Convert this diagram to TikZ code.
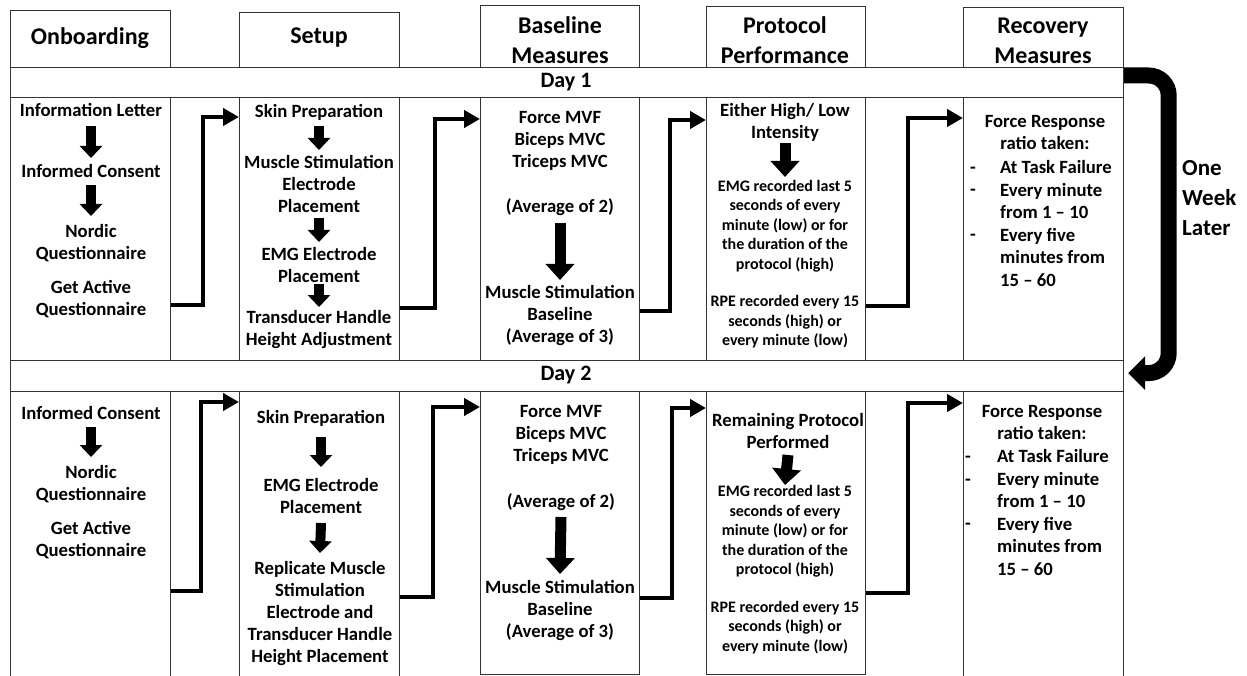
\documentclass[tikz,border=0pt]{standalone}
\usepackage{fontspec}
\setmainfont{Carlito}
\usetikzlibrary{arrows.meta}
\tikzset{
 cell/.style={draw=black!80, line width=1.2pt, inner sep=0pt, anchor=north west},
 txt/.style={align=center, inner sep=0pt, font=\fontsize{18.7}{22}\selectfont\bfseries},
 small/.style={align=center, inner sep=0pt, font=\fontsize{16}{19.5}\selectfont\bfseries},
 head/.style={align=center, inner sep=0pt, font=\fontsize{24}{30}\selectfont\bfseries},
 lst/.style={align=left, anchor=west, inner sep=0pt, font=\fontsize{18.7}{22.5}\selectfont\bfseries},
 bul/.style={inner sep=0pt, yshift=-3.5pt, font=\fontsize{18.7}{22}\selectfont\bfseries},
 elbow/.style={line width=4.5pt, -{Triangle[length=16pt 0 0,width=17pt 0 0]}},
 blk/.style={line width=10pt, -{Triangle[length=12pt 0 0,width=22pt 0 0]}},
 blkbig/.style={line width=11pt, -{Triangle[length=16pt 0 0,width=28pt 0 0]}},
}
\newcommand\mkcell[5]{\node[cell,minimum width=#4pt,minimum height=#5pt] (#1) at (#2,-#3) {};}
\begin{document}
\begin{tikzpicture}[x=1pt,y=1pt]
\useasboundingbox (0,0) rectangle (1247,-676);
% header boxes
\mkcell{hon}{10}{10}{160}{57}
\mkcell{hse}{239}{12}{160}{55}
\mkcell{hba}{480}{5}{159}{62}
\mkcell{hpr}{706}{6}{159}{61}
\mkcell{hre}{963}{7}{160}{60}
\node[head] (thon) at (90,-38) {Onboarding};
\node[head] (thse) at (319,-38) {Setup};
\node[head] (thba) at (560,-40) {Baseline\\Measures};
\node[head] (thpr) at (785,-40) {Protocol\\Performance};
\node[head] (thre) at (1043,-41) {Recovery\\Measures};
% day bands
\mkcell{d1}{10}{67}{1113}{30}
\node[font=\fontsize{22}{26}\selectfont\bfseries, inner sep=0pt] (td1) at (566,-82) {Day 1};
\mkcell{d2}{10}{360}{1113}{31}
\node[font=\fontsize{22}{26}\selectfont\bfseries, inner sep=0pt] (td2) at (566,-375) {Day 2};
% row 1 cells
\mkcell{on1}{10}{97}{160}{263}
\mkcell{se1}{239}{97}{160}{263}
\mkcell{ba1}{480}{97}{159}{263}
\mkcell{pr1}{706}{97}{159}{263}
\mkcell{re1}{963}{97}{160}{263}
% row 2 cells
\mkcell{on2}{10}{391}{160}{295}
\mkcell{se2}{239}{391}{160}{295}
\mkcell{ba2}{480}{391}{159}{283}
\mkcell{pr2}{706}{391}{159}{283}
\mkcell{re2}{963}{391}{160}{295}

% ---------- Day 1 texts ----------
\node[txt] (a1) at (91,-110) {Information Letter};
\node[txt] (a2) at (91,-171) {Informed Consent};
\node[txt] (a3) at (91,-243) {Nordic\\Questionnaire};
\node[txt] (a4) at (91,-299) {Get Active\\Questionnaire};
\draw[blk] (a1.south |- 0,-126) -- (a2.north |- 0,-158);
\draw[blk] (a2.south |- 0,-185) -- (a3.north |- 0,-216);

\node[txt] (b1) at (319,-112) {Skin Preparation};
\node[txt] (b2) at (319,-184) {Muscle Stimulation\\Electrode\\Placement};
\node[txt] (b3) at (319,-265) {EMG Electrode\\Placement};
\node[txt] (b4) at (319,-330) {Transducer Handle\\Height Adjustment};
\draw[blk] (b1.south |- 0,-126) -- (b2.north |- 0,-150);
\draw[blk] (b2.south |- 0,-218) -- (b3.north |- 0,-242);
\draw[blk] (b3.south |- 0,-284) -- (b4.north |- 0,-307);

\node[txt] (c1) at (560,-140.5) {Force MVF\\Biceps MVC\\Triceps MVC};
\node[txt] (c2) at (560,-207) {(Average of 2)};
\node[txt] (c3) at (560,-315.5) {Muscle Stimulation\\Baseline\\(Average of 3)};
\draw[blkbig] (c2.south |- 0,-223) -- (c3.north |- 0,-280);

\node[txt] (p1) at (785,-122) {Either High/ Low\\Intensity};
\node[small] (p2) at (785,-226) {EMG recorded last 5\\seconds of every\\minute (low) or for\\the duration of the\\protocol (high)};
\node[small] (p3) at (785,-322) {RPE recorded every 15\\seconds (high) or\\every minute (low)};
\draw[blkbig] (p1.south |- 0,-143) -- (p2.north |- 0,-177);

\node[txt] (r1) at (1045,-133) {Force Response\\ratio taken:};
\node[lst] (r2) at (1000,-223.5) {At Task Failure\\Every minute\\from 1 -- 10\\Every five\\minutes from\\15 -- 60};
\node[bul] (r3) at (973,-167) {-};
\node[bul] (r4) at (973,-189) {-};
\node[bul] (r5) at (973,-234) {-};

% ---------- Day 2 texts ----------
\node[txt] (e1) at (91,-413) {Informed Consent};
\node[txt] (e2) at (91,-484.5) {Nordic\\Questionnaire};
\node[txt] (e3) at (91,-540.5) {Get Active\\Questionnaire};
\draw[blk] (e1.south |- 0,-427) -- (e2.north |- 0,-457);

\node[txt] (f1) at (321,-418) {Skin Preparation};
\node[txt] (f2) at (321,-496) {EMG Electrode\\Placement};
\node[txt] (f3) at (320,-613.5) {Replicate Muscle\\Stimulation\\Electrode and\\Transducer Handle\\Height Placement};
\draw[blk] (f1.south |- 0,-437) -- (f2.north |- 0,-467);
\draw[blk] (f2.south |- 0,-523) -- (f3.north |- 0,-553);

\node[txt] (g1) at (561,-434.5) {Force MVF\\Biceps MVC\\Triceps MVC};
\node[txt] (g2) at (561,-502) {(Average of 2)};
\node[txt] (g3) at (560,-610.5) {Muscle Stimulation\\Baseline\\(Average of 3)};
\draw[blkbig] (g2.south |- 0,-517) -- (g3.north |- 0,-574);

\node[txt] (h1) at (788,-431) {Remaining Protocol\\Performed};
\node[small] (h2) at (785,-531.5) {EMG recorded last 5\\seconds of every\\minute (low) or for\\the duration of the\\protocol (high)};
\node[small] (h3) at (785,-627.5) {RPE recorded every 15\\seconds (high) or\\every minute (low)};
\draw[blkbig] (h1.south |- 0,-455) -- (h2.north |- 0,-485);

\node[txt] (k1) at (1042,-422.5) {Force Response\\ratio taken:};
\node[lst] (k2) at (997,-512.5) {At Task Failure\\Every minute\\from 1 -- 10\\Every five\\minutes from\\15 -- 60};
\node[bul] (k3) at (968,-456) {-};
\node[bul] (k4) at (968,-479) {-};
\node[bul] (k5) at (968,-523) {-};

% ---------- elbow connectors ----------
\draw[elbow] (on1.east |- 0,-305) -- (203,-305) |- (se1.west |- 0,-117);
\draw[elbow] (se1.east |- 0,-308) -- (435,-308) |- (ba1.west |- 0,-119);
\draw[elbow] (ba1.east |- 0,-311) -- (670,-311) |- (pr1.west |- 0,-120);
\draw[elbow] (pr1.east |- 0,-306) -- (908,-306) |- (re1.west |- 0,-118);

\draw[elbow] (on2.east |- 0,-591) -- (201,-591) |- (se2.west |- 0,-402);
\draw[elbow] (se2.east |- 0,-597) -- (433,-597) |- (ba2.west |- 0,-407);
\draw[elbow] (ba2.east |- 0,-598) -- (672,-598) |- (pr2.west |- 0,-408);
\draw[elbow] (pr2.east |- 0,-593) -- (908,-593) |- (re2.west |- 0,-403);

% ---------- one week later ----------
\draw[line width=16pt, rounded corners=20pt, -{Triangle[length=17pt 0 0,width=33pt 0 0]}]
  ([yshift=-8.5pt]d1.north east) -| ([xshift=44.5pt,yshift=3pt]d2.east) -- ([xshift=4pt,yshift=3pt]d2.east);
\node[anchor=west, align=left, inner sep=0pt, font=\fontsize{23}{30}\selectfont\bfseries] (owl) at (1182,-198) {One\\Week\\Later};
\end{tikzpicture}
\end{document}
